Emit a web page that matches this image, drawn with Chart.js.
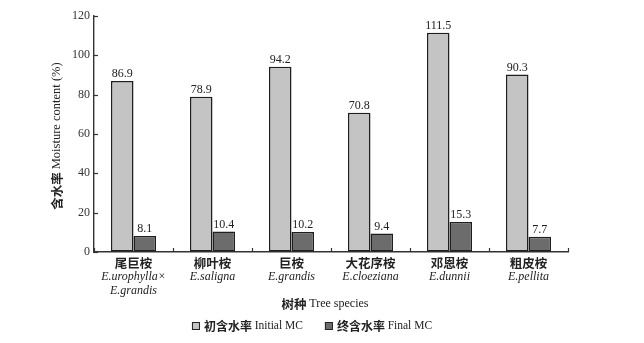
<!DOCTYPE html>
<html>
<head>
<meta charset="utf-8">
<script src="https://cdn.jsdelivr.net/npm/chart.js@4/dist/chart.umd.min.js"></script>
<style>
  html, body { margin: 0; padding: 0; background: #ffffff; }
  #wrap { width: 644px; height: 343px; }
</style>
</head>
<body>
<div id="wrap"><canvas id="c" width="644" height="343"></canvas></div>
<script>
const categoriesZh = ['尾巨桉', '柳叶桉', '巨桉', '大花序桉', '邓恩桉', '粗皮桉'];
const categoriesLatin = [['E.urophylla×', 'E.grandis'], ['E.saligna'], ['E.grandis'], ['E.cloeziana'], ['E.dunnii'], ['E.pellita']];
const initialMC = [86.9, 78.9, 94.2, 70.8, 111.5, 90.3];
const finalMC = [8.1, 10.4, 10.2, 9.4, 15.3, 7.7];
const seriesZh = ['初含水率', '终含水率'];
const seriesEn = ['Initial MC', 'Final MC'];
const yMin = 0, yMax = 120, yStep = 20;
const xTitleZh = '树种', xTitleEn = 'Tree species';
const yTitleZh = '含水率', yTitleEn = 'Moisture content (%)';

const SERIF = '"Liberation Serif", "Times New Roman", serif';
const CJK = '"Noto Sans CJK SC", sans-serif';
const TXT = '#222222';

function drawMixed(ctx, segs, cx, cy) {
  let total = 0;
  segs.forEach(s => { ctx.font = s.font; s.w = ctx.measureText(s.text).width; total += s.w; });
  let x = cx - total / 2;
  ctx.textAlign = 'left';
  ctx.textBaseline = 'middle';
  segs.forEach(s => { ctx.font = s.font; ctx.fillText(s.text, x, cy + (s.dy || 0)); x += s.w; });
  return total;
}

const decorPlugin = {
  id: 'decor',
  afterDraw(chart) {
    const ctx = chart.ctx;
    const xs = chart.scales.x, ys = chart.scales.y;
    const area = chart.chartArea;
    ctx.save();
    ctx.fillStyle = TXT;
    ctx.strokeStyle = '#333333';
    ctx.lineWidth = 1.2;

    // inward ticks on y axis
    ys.ticks.forEach(t => {
      const py = Math.round(ys.getPixelForValue(t.value)) + 0.5;
      ctx.beginPath(); ctx.moveTo(area.left, py); ctx.lineTo(area.left + 4, py); ctx.stroke();
    });
    // inward ticks on x axis at category boundaries
    const half = (xs.getPixelForValue(1) - xs.getPixelForValue(0)) / 2;
    for (let i = 0; i <= categoriesZh.length; i++) {
      const px = Math.round(xs.getPixelForValue(i) - half) + 0.5;
      ctx.beginPath(); ctx.moveTo(px, area.bottom); ctx.lineTo(px, area.bottom - 4); ctx.stroke();
    }

    // value labels above bars
    ctx.font = '12px ' + SERIF;
    ctx.textAlign = 'center';
    ctx.textBaseline = 'bottom';
    chart.data.datasets.forEach((ds, di) => {
      const meta = chart.getDatasetMeta(di);
      meta.data.forEach((bar, i) => {
        ctx.fillText(ds.data[i].toFixed(1), bar.x, bar.y - 1);
      });
    });

    // x category labels
    categoriesZh.forEach((zh, i) => {
      const cx = xs.getPixelForValue(i);
      ctx.font = 'bold 12.5px ' + CJK;
      ctx.textAlign = 'center';
      ctx.textBaseline = 'middle';
      ctx.fillText(zh, cx, area.bottom + 11);
      ctx.font = 'italic 12px ' + SERIF;
      categoriesLatin[i].forEach((ln, j) => {
        ctx.fillText(ln, cx, area.bottom + 24.5 + j * 14.5);
      });
    });

    // x axis title
    drawMixed(ctx, [
      { text: xTitleZh + ' ', font: 'bold 12.5px ' + CJK },
      { text: xTitleEn, font: '12px ' + SERIF }
    ], (area.left + area.right) / 2 - 6, area.bottom + 52);

    // y axis title (rotated)
    ctx.save();
    ctx.translate(57, (area.top + area.bottom) / 2 + 2);
    ctx.rotate(-Math.PI / 2);
    drawMixed(ctx, [
      { text: yTitleZh + ' ', font: 'bold 12.5px ' + CJK },
      { text: yTitleEn, font: '12.5px ' + SERIF }
    ], 0, 0);
    ctx.restore();

    // legend
    const ly = area.bottom + 74;
    const items = chart.data.datasets.map((ds, di) => ({
      color: ds.backgroundColor,
      segs: [
        { text: seriesZh[di] + ' ', font: 'bold 12px ' + CJK },
        { text: seriesEn[di], font: '11.5px ' + SERIF }
      ]
    }));
    const box = 8, gapBox = 4, gapItem = 22;
    let widths = items.map(it => {
      let w = 0;
      it.segs.forEach(s => { ctx.font = s.font; w += ctx.measureText(s.text).width; });
      return w;
    });
    let total = 0;
    items.forEach((it, k) => { total += box + gapBox + widths[k]; if (k < items.length - 1) total += gapItem; });
    let lx = 312 - total / 2;
    items.forEach((it, k) => {
      ctx.fillStyle = it.color;
      ctx.fillRect(lx, ly - box / 2, box, box);
      ctx.strokeStyle = '#222';
      ctx.lineWidth = 1;
      ctx.strokeRect(lx + 0.5, ly - box / 2 + 0.5, box - 1, box - 1);
      ctx.fillStyle = TXT;
      drawMixed(ctx, it.segs, lx + box + gapBox + widths[k] / 2, ly);
      lx += box + gapBox + widths[k] + gapItem;
    });
    ctx.restore();
  }
};

new Chart(document.getElementById('c'), {
  type: 'bar',
  data: {
    labels: categoriesZh,
    datasets: [
      { label: seriesZh[0] + ' ' + seriesEn[0], data: initialMC, backgroundColor: '#c4c4c4', borderColor: '#1e1e1e', borderWidth: 1.5, borderSkipped: false },
      { label: seriesZh[1] + ' ' + seriesEn[1], data: finalMC, backgroundColor: '#6c6c6c', borderColor: '#1e1e1e', borderWidth: 1.5, borderSkipped: false }
    ]
  },
  options: {
    responsive: false,
    animation: false,
    devicePixelRatio: 1,
    layout: { padding: { left: 0, right: 76, top: 16, bottom: 0 } },
    categoryPercentage: 0.57,
    barPercentage: 1.0,
    plugins: {
      legend: { display: false },
      tooltip: { enabled: false }
    },
    scales: {
      x: {
        ticks: { display: false },
        grid: { display: true, drawOnChartArea: false, drawTicks: false },
        border: { display: true, color: '#333333', width: 1.4 },
        afterFit(scale) { scale.height = 91; }
      },
      y: {
        min: yMin, max: yMax,
        ticks: { stepSize: yStep, padding: 4, color: '#333333', font: { family: SERIF, size: 12 } },
        grid: { display: true, drawOnChartArea: false, drawTicks: false },
        border: { display: true, color: '#333333', width: 1.4 },
        afterFit(scale) { scale.width = 94; }
      }
    }
  },
  plugins: [decorPlugin]
});
</script>
</body>
</html>
